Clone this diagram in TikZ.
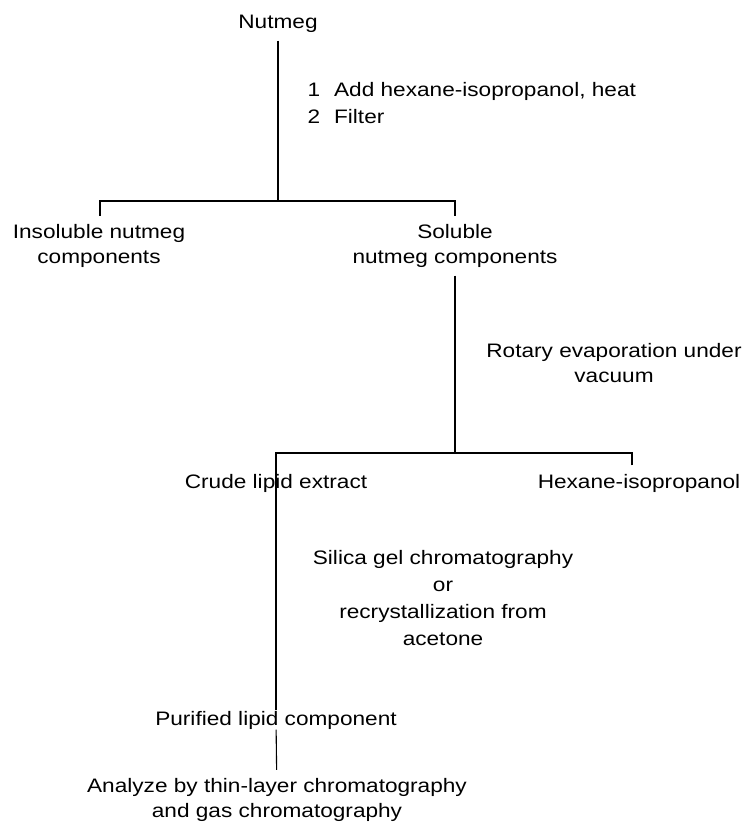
\documentclass[tikz,border=0pt]{standalone}
\usepackage{fontspec}
\setmainfont[FakeStretch=1.16]{Liberation Sans}

\begin{document}
\begin{tikzpicture}[x=1pt, y=-1pt, line width=1.1pt, font=\fontsize{19.5}{24.5}\selectfont]
\tikzset{item/.style={inner xsep=0pt, inner ysep=8pt, align=center, anchor=base},
         note/.style={inner sep=0pt, align=#1, anchor=base},
         note/.default=center}
\useasboundingbox (0,0) rectangle (746,823);

% materials and products (base = last line)
\node[item] (nutmeg) at (278,28) {Nutmeg};
\node[item] (insol) at (99,263) {Insoluble nutmeg\\components};
\node[item] (sol) at (455,263) {Soluble\\nutmeg components};
\node[item] (crude) at (276,488) {Crude lipid extract};
\node[item] (hex) at (639,488) {Hexane-isopropanol};
\node[item, inner ysep=0pt] (pure) at (276,725) {Purified lipid component};
\node[item] (analyze) at (277,817) {Analyze by thin-layer chromatography\\and gas chromatography};

% what is done at each step
\node[note=left, anchor=base west, font=\fontsize{19.5}{27}\selectfont] (addheat) at (307,123) {1\hspace{14pt}Add hexane-isopropanol, heat\\2\hspace{14pt}Filter};
\node[note] (rotary) at (614,382) {Rotary evaporation under\\vacuum};
\node[note, font=\fontsize{19.5}{26.7}\selectfont] (silica) at (443,645) {Silica gel chromatography\\or\\recrystallization from\\acetone};

% split points
\coordinate (f1) at (278,201);
\coordinate (f1l) at (100,201);
\coordinate (f1r) at (455,201);
\coordinate (f2) at (455,453);
\coordinate (f2l) at (276,453);
\coordinate (f2r) at (632,453);

\draw (nutmeg) -- (f1);
\draw (f1l |- insol.north) -- (f1l) -- (f1r) -- (f1r |- sol.north);
\draw (sol) -- (f2);
\draw (f2r |- hex.north) -- (f2r) -- (f2l) -- (pure);
\draw (pure) -- (analyze);

\end{tikzpicture}
\end{document}
